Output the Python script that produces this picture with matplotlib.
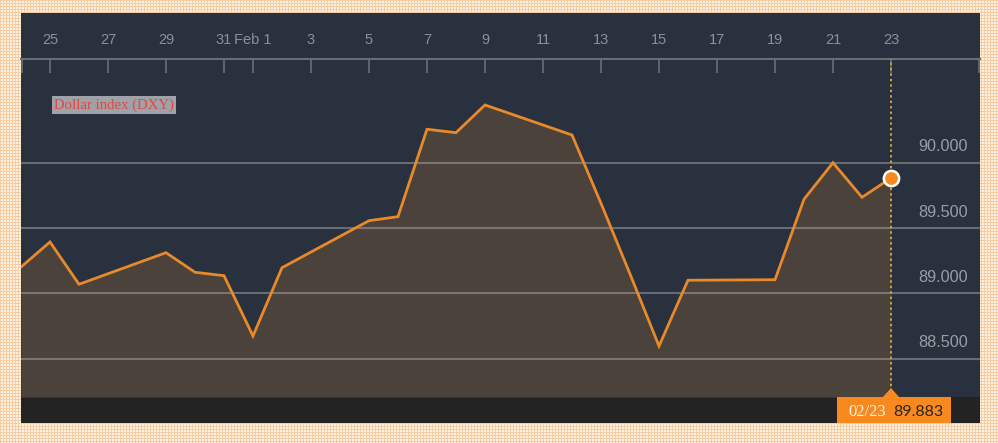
import numpy as np
import matplotlib
matplotlib.use("Agg")
import matplotlib.pyplot as plt
import matplotlib.dates as mdates
from matplotlib.patches import Rectangle, Polygon
from datetime import datetime, timedelta

plt.rcParams['font.family'] = ['Liberation Sans', 'DejaVu Sans']

# DXY daily closes
dates = ["2018-01-24", "2018-01-25", "2018-01-26", "2018-01-29", "2018-01-30",
         "2018-01-31", "2018-02-01", "2018-02-02", "2018-02-05", "2018-02-06",
         "2018-02-07", "2018-02-08", "2018-02-09", "2018-02-12", "2018-02-13",
         "2018-02-14", "2018-02-15", "2018-02-16", "2018-02-19", "2018-02-20",
         "2018-02-21", "2018-02-22", "2018-02-23"]
values = [89.201, 89.393, 89.069, 89.311, 89.161,
          89.135, 88.673, 89.196, 89.556, 89.587,
          90.256, 90.230, 90.442, 90.212, 89.689,
          89.148, 88.596, 89.100, 89.104, 89.720,
          90.000, 89.735, 89.883]

tick_dates = ["2018-01-25", "2018-01-27", "2018-01-29", "2018-01-31", "2018-02-01",
              "2018-02-03", "2018-02-05", "2018-02-07", "2018-02-09", "2018-02-11",
              "2018-02-13", "2018-02-15", "2018-02-17", "2018-02-19", "2018-02-21",
              "2018-02-23"]
tick_labels = ["25", "27", "29", "31", "Feb 1", "3", "5", "7", "9", "11",
               "13", "15", "17", "19", "21", "23"]
grid_levels = [88.5, 89.0, 89.5, 90.0]
series_name = "Dollar index (DXY)"

NAVY = "#29313e"
FILL = "#4b423c"
ORANGE = "#e8892b"
W, H = 998, 443

x = mdates.date2num([datetime.strptime(d, "%Y-%m-%d") for d in dates])
xt = mdates.date2num([datetime.strptime(d, "%Y-%m-%d") for d in tick_dates])

fig = plt.figure(figsize=(W / 100, H / 100), dpi=100)

# checkered beige page background
bg = fig.add_axes([0, 0, 1, 1])
ii, jj = np.indices((H, W))
pattern = ((ii % 3 == 0) | (jj % 3 == 0)).astype(float)
bg.imshow(pattern, cmap=matplotlib.colors.ListedColormap(["#fdf2e2", "#f6cda3"]),
          interpolation="nearest", aspect="auto")
bg.axis("off")


def px_rect(l, t, r, b):
    # pixel box (from top-left) -> figure fraction rect
    return [l / W, (H - b) / H, (r - l) / W, (b - t) / H]


panel = fig.add_axes(px_rect(21, 13, 980, 423))
panel.set_facecolor(NAVY)
panel.set_xticks([]), panel.set_yticks([])
for s in panel.spines.values():
    s.set_visible(False)

bar = fig.add_axes(px_rect(21, 397, 980, 423))
bar.set_facecolor("#232323")
bar.set_xticks([]), bar.set_yticks([])
for s in bar.spines.values():
    s.set_visible(False)

ax = fig.add_axes(px_rect(21, 59, 980, 397))
ax.patch.set_alpha(0)
x0 = x[0]
ax.set_xlim(x0, x0 + 959 / 29)
ax.set_ylim(88.206, 90.794)

ax.fill_between(x, values, 88.206, color=FILL, lw=0, zorder=1)
for lv in grid_levels:
    ax.axhline(lv, color="#b4b4b4", alpha=0.45, lw=1.5, zorder=2)
ax.plot(x, values, color=ORANGE, lw=2, zorder=3, solid_joinstyle="miter")
ax.axvline(x[-1], color="#d1a43c", lw=1.4, ls=(0, (1.2, 1.6)), zorder=3)
ax.plot(x[-1], values[-1], "o", ms=11, color="#f7891f", mec="white", mew=1.8, zorder=5)

# top date axis
ax.xaxis.tick_top()
ax.set_xticks(xt)
ax.set_xticklabels(tick_labels)
ax.set_xticks([x0 + 0.03, x0 + 959 / 29 - 0.03], minor=True)
ax.tick_params(axis="x", which="both", direction="in", length=10, width=1.2,
               color="#6a6e74", labelcolor="#8d9096", labelsize=10.5, pad=9)
ax.set_yticks([])
for s in ["left", "right", "bottom"]:
    ax.spines[s].set_visible(False)
ax.spines["top"].set_color("#6a6e74")
ax.spines["top"].set_linewidth(1.5)

# right value labels
for lv in grid_levels:
    ax.annotate(f"{lv:.3f}", xy=(0.9875, lv), xycoords=ax.get_yaxis_transform(),
                xytext=(0, 11.5), textcoords="offset points",
                ha="right", va="center", fontsize=11.7, color="#9a9da2")

# series label
ax.text((54 - 21) / 959, (397 - 105) / 338, series_name, transform=ax.transAxes,
        family=["Liberation Serif", "DejaVu Serif"], fontsize=10.6, color="#e8453c",
        ha="left", va="center",
        bbox=dict(facecolor="#9fa2a8", edgecolor="none", pad=1.5))

# last value tag under the chart
xpx = ax.transData.transform((x[-1], 88.206))[0]
fig.patches.append(Rectangle(((xpx - 54) / W, 20 / H), 114 / W, 26 / H,
                             transform=fig.transFigure, facecolor="#f7891f",
                             edgecolor="none", zorder=10))
fig.patches.append(Polygon([((xpx - 9) / W, 45 / H), ((xpx + 9) / W, 45 / H),
                            (xpx / W, 55 / H)], closed=True,
                           transform=fig.transFigure, facecolor="#f7891f",
                           edgecolor="none", zorder=10))
last_date = datetime.strptime(dates[-1], "%Y-%m-%d").strftime("%m/%d")
fig.text((xpx - 24) / W, 31 / H, last_date, ha="center", va="center",
         family=["Liberation Serif", "DejaVu Serif"], fontsize=12,
         color="#fff3e6", zorder=11)
fig.text((xpx + 27) / W, 31 / H, f"{values[-1]:.3f}", ha="center", va="center",
         family=["Lato", "DejaVu Sans"], fontsize=11.5, color="#2a2522", zorder=11)

fig.savefig("out.png", dpi=100)
